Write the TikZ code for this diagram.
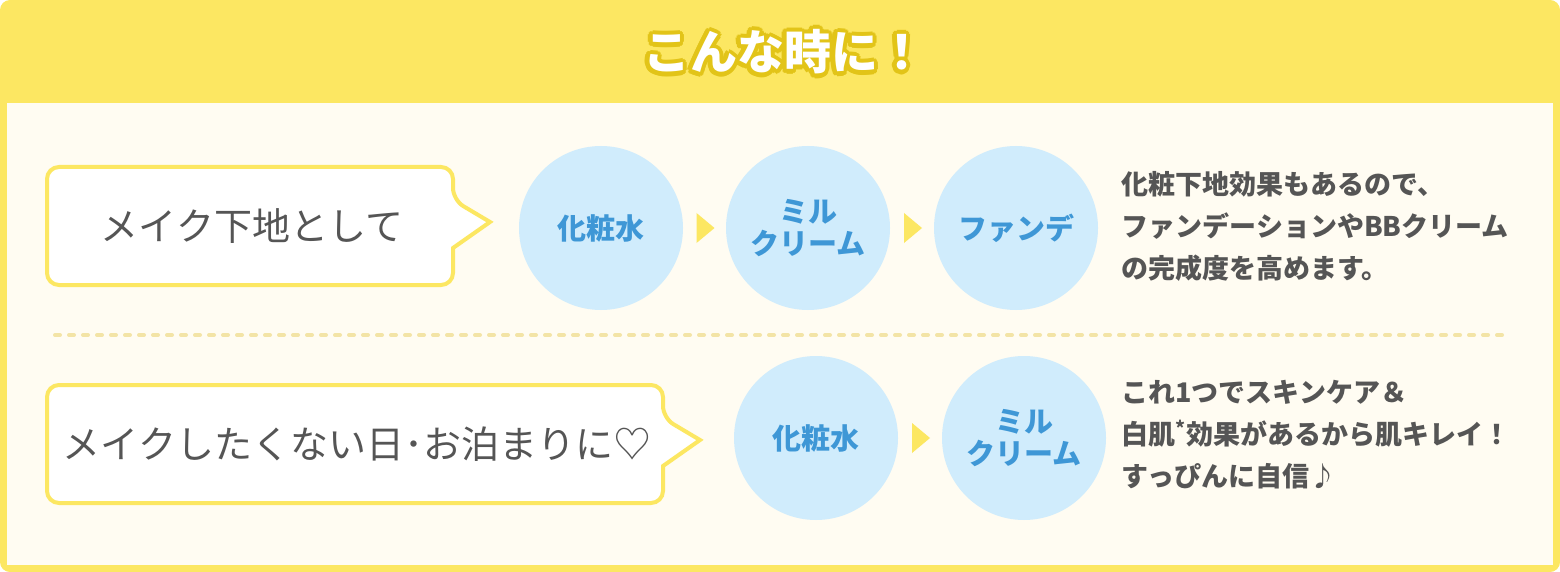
\documentclass[tikz,border=0pt]{standalone}
\usepackage{fontspec}
\newfontfamily\jp{Noto Sans CJK JP}
\usetikzlibrary{positioning,calc}
\definecolor{frameyel}{HTML}{FCE762}
\definecolor{titleyel}{HTML}{E2C418}
\definecolor{cream}{HTML}{FFFCF2}
\definecolor{circblue}{HTML}{D0ECFC}
\definecolor{textblue}{HTML}{3E97D6}
\definecolor{textgray}{HTML}{555555}
\definecolor{dotyel}{HTML}{F3E4A6}
\tikzset{
  stepcirc/.style={circle,fill=circblue,minimum size=164pt,inner sep=0pt,
    font=\jp\bfseries\fontsize{29}{32}\selectfont,text=textblue,align=center},
  bubbletext/.style={font=\jp\fontsize{38}{44}\selectfont,text=textgray},
  notetext/.style={font=\jp\bfseries\fontsize{27}{42}\selectfont,text=textgray,
    align=left,anchor=north west},
  titletext/.style={font=\jp\bfseries\fontsize{47}{50}\selectfont},
  bubble/.style={draw=frameyel,line width=4pt,fill=white,rounded corners=12pt},
  arrowtri/.style={fill=frameyel},
}
\newcommand{\arrowmark}[1]{\fill[arrowtri] ($(#1)+(-8,-15)$) -- ($(#1)+(10,0)$) -- ($(#1)+(-8,15)$) -- cycle;}
\begin{document}
\begin{tikzpicture}[x=1pt,y=-1pt]
	\useasboundingbox (0,0) rectangle (1560,572);
	% frame
	\fill[frameyel,rounded corners=10pt] (0,0) rectangle (1560,572);
	\fill[cream] (7,103) rectangle (1553,565);
	\foreach \a in {0,30,...,330}
	  {\node[titletext,text=titleyel] at ($(784,52)+(\a:4.5)$) {こんな時に！};}
	\node[titletext,text=white] (title) at (784,52) {こんな時に！};
	% row 1
	\draw[bubble] (47,167) -- (453,167) -- (453,200) [sharp corners] -- (490,222) -- (453,248) [rounded corners=12pt] -- (453,285) -- (47,285) -- cycle;
	\node[bubbletext] (want1) at (252,226) {メイク下地として};
	\node[stepcirc] (lotion1) at (601,228) {化粧水};
	\node[stepcirc] (milk1) at (808,228) {ミル\\クリーム};
	\node[stepcirc] (found1) at (1016,228) {ファンデ};
	\arrowmark{$(lotion1)!0.5!(milk1)$}
	\arrowmark{$(milk1)!0.5!(found1)$}
	\node[notetext] (note1) at (1118,168) {化粧下地効果もあるので、\\ファンデーションやBBクリーム\\の完成度を高めます。};
	% separator
	\draw[dotyel,line width=4pt,line cap=round,dash pattern=on 5pt off 9pt] (55,335) -- (1505,335);
	% row 2
	\draw[bubble] (47,385) -- (663,385) -- (663,418) [sharp corners] -- (700,440) -- (663,466) [rounded corners=12pt] -- (663,503) -- (47,503) -- cycle;
	\node[bubbletext] (want2) at (357,444) {メイクしたくない日･お泊まりに♡};
	\node[stepcirc] (lotion2) at (816,438) {化粧水};
	\node[stepcirc] (milk2) at (1024,438) {ミル\\クリーム};
	\arrowmark{$(lotion2)!0.5!(milk2)$}
	\node[notetext] (note2) at (1118,377) {これ1つでスキンケア＆\\白肌\textsuperscript{*}効果があるから肌キレイ！\\すっぴんに自信♪};
\end{tikzpicture}
\end{document}
